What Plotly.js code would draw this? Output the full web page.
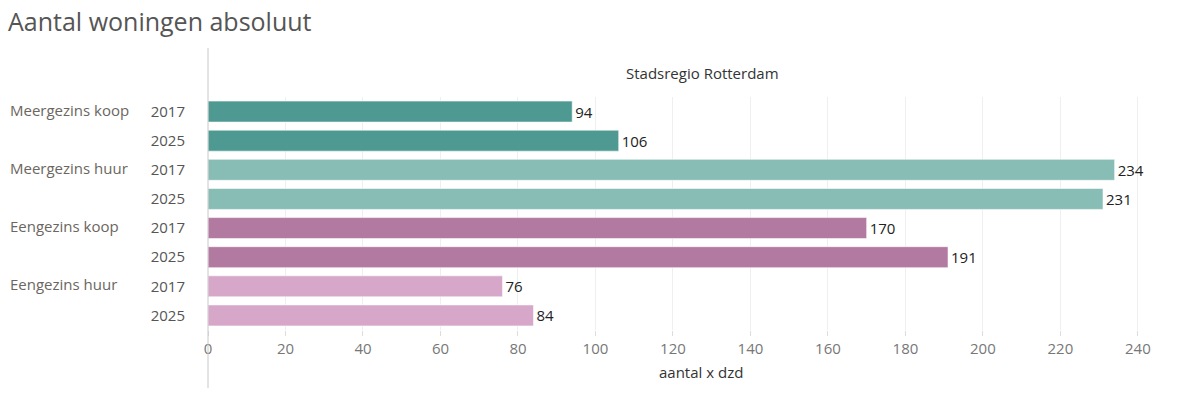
<!DOCTYPE html>
<html>
<head>
<meta charset="utf-8">
<script src="https://cdn.plot.ly/plotly-3.0.1.min.js"></script>
<style>html,body{margin:0;padding:0;background:#fff;}#chart{width:1196px;height:396px;}</style>
</head>
<body>
<div id="chart"></div>
<script>
var categories = ["Meergezins koop", "Meergezins huur", "Eengezins koop", "Eengezins huur"];
var years = ["2017", "2025"];
var values2017 = [94, 234, 170, 76];
var values2025 = [106, 231, 191, 84];
var colors = ["#4E9A93", "#87BDB5", "#B27AA1", "#D6A7C9"];
var chartTitle = "Aantal woningen absoluut";
var paneTitle = "Stadsregio Rotterdam";
var xTitle = "aantal x dzd";
var xTicks = [0, 20, 40, 60, 80, 100, 120, 140, 160, 180, 200, 220, 240];

var font = "'Open Sans', 'Noto Sans', sans-serif";

var yPos = [], xVals = [], barColors = [], tickText = [];
categories.forEach(function (c, i) {
  [values2017[i], values2025[i]].forEach(function (v, j) {
    yPos.push(i * 2 + j);
    xVals.push(v);
    barColors.push(colors[i]);
    tickText.push(years[j]);
  });
});

var trace = {
  type: "bar",
  orientation: "h",
  x: xVals,
  y: yPos,
  width: 0.72,
  marker: { color: barColors, line: { color: "rgba(255,255,255,0.55)", width: 1 } },
  text: xVals.map(String),
  textposition: "outside",
  cliponaxis: false,
  textfont: { family: font, size: 15, color: "#222" },
  hoverinfo: "none"
};

var annotations = categories.map(function (c, i) {
  return {
    text: c, xref: "paper", yref: "y", x: -200 / 988, y: i * 2,
    xanchor: "left", yanchor: "middle", yshift: 2, showarrow: false,
    font: { family: font, size: 15, color: "#6b6660" }
  };
});
annotations.push({
  text: paneTitle, xref: "paper", yref: "paper", x: 0.5, y: (330 - 73) / 233,
  xanchor: "center", yanchor: "middle", showarrow: false,
  font: { family: font, size: 15, color: "#333" }
});
annotations.push({
  text: xTitle, xref: "paper", yref: "paper", x: (701 - 208) / 988, y: (330 - 372) / 233,
  xanchor: "center", yanchor: "middle", showarrow: false,
  font: { family: font, size: 15, color: "#333" }
});

var layout = {
  width: 1196, height: 396,
  margin: { l: 208, r: 0, t: 97, b: 66 },
  paper_bgcolor: "#fff", plot_bgcolor: "#fff",
  showlegend: false,
  title: {
    text: chartTitle, x: 8 / 1196, xanchor: "left", xref: "container",
    y: 1 - 22 / 396, yanchor: "middle", yref: "container",
    font: { family: font, size: 25, color: "#555" }
  },
  xaxis: {
    range: [0, 255],
    tickvals: xTicks,
    ticktext: xTicks.map(String),
    showgrid: true, gridcolor: "#efefef", gridwidth: 1,
    zeroline: false, showline: false,
    ticks: "outside", ticklen: 5, tickcolor: "#ddd",
    tickfont: { family: font, size: 15, color: "#777" },
    fixedrange: true
  },
  yaxis: {
    range: [7.5, -0.5],
    tickvals: yPos, ticktext: tickText,
    showgrid: false, zeroline: false, showline: false,
    ticks: "", ticklabelstandoff: 22,
    tickfont: { family: font, size: 15, color: "#555" },
    fixedrange: true
  },
  annotations: annotations,
  shapes: [{
    type: "line", xref: "paper", yref: "paper",
    x0: 0, x1: 0, y0: (330 - 388) / 233, y1: (330 - 48) / 233,
    line: { color: "#c8c8c8", width: 1 }
  }]
};

Plotly.newPlot("chart", [trace], layout, { displayModeBar: false, staticPlot: true });
</script>
</body>
</html>
